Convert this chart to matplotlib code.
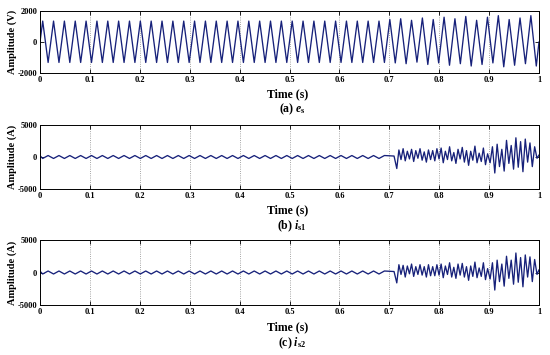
import numpy as np
import matplotlib
matplotlib.use("Agg")
import matplotlib.pyplot as plt

plt.rcParams["font.family"] = "Liberation Serif"
plt.rcParams["font.weight"] = "bold"
plt.rcParams["mathtext.fontset"] = "custom"
plt.rcParams["mathtext.it"] = "Liberation Serif:italic:bold"
plt.rcParams["mathtext.rm"] = "Liberation Serif:bold"

# waveform extrema (fundamental ~46 Hz)
T_FIRST = 0.0054          # time of first positive peak (s)
T_HALF = 0.01087          # time between successive extrema (s)
N_STEADY = 64             # extrema before the disturbance at 0.7 s

es_steady = [1350, -1320]                       # voltage peak / trough before 0.7 s
es_tail = [1450, -1350, 1500, -1400, 1400, -1300, 1550, -1450, 1450, -1350,
           1600, -1500, 1500, -1400, 1650, -1550, 1400, -1450, 1600, -1350,
           1700, -1600, 1450, -1500, 1550, -1400, 1700, -1550]

is_steady = [-230, 230]                         # current ripple before 0.7 s
is1_a = [150, -1800, 1100, -400, 1300, -600, 900, -300, 1200, -700, 1000, -200, 1300,
         -500, 800, -800, 1100, -400, 1000, -600, 1300, -300, 1400, -900, 900,
         -400, 1600, -600, 700, -1000, 1200, -300, 1500, -800, 1000, -1300, 900,
         -500, 1700, -900, 600, -700, 1400, -1200, 500]
is1_b = [-900, 1600, -2500, 2000, -1500, 1200, -2200, 2600, -1000, 1800, -1900,
         3000, -1600, 2400, -2300, 2800, -800, 2200, -1500, 1600, -200]
is2_a = [150, -1600, 1200, -300, 1100, -700, 1000, -200, 1300, -600, 900, -300, 1200,
         -400, 900, -700, 1200, -500, 900, -500, 1200, -400, 1300, -800, 1000,
         -300, 1500, -700, 800, -900, 1300, -400, 1400, -700, 900, -1200, 1000,
         -600, 1600, -800, 700, -600, 1500, -1100, 600]
is2_b = [-1000, 1500, -2700, 1900, -1400, 1300, -2100, 2500, -900, 1900, -1800,
         3000, -1500, 2300, -2200, 2700, -700, 2400, -1400, 2000, -300]

xticks = [0, 0.1, 0.2, 0.3, 0.4, 0.5, 0.6, 0.7, 0.8, 0.9, 1]
xticklabels = ["0", "0.1", "0.2", "0.3", "0.4", "0.5", "0.6", "0.7", "0.8", "0.9", "1"]
ylabels = ["Amplitude (V)", "Amplitude (A)", "Amplitude (A)"]
ylims = [2000, 5000, 5000]
captions = [r"(a) $e_\mathrm{s}$", r"(b) $i_\mathrm{s1}$", r"(c) $i_\mathrm{s2}$"]

LINE = "#17217a"
W, H = 550, 355


def voltage():
    vals = es_steady * (N_STEADY // 2) + es_tail
    t = T_FIRST + np.arange(len(vals)) * T_HALF
    return np.r_[0, t, 1.0], np.r_[0, vals, 0]


def current(seg_a, seg_b, end_val):
    vals = is_steady * (N_STEADY // 2)
    t = T_FIRST + np.arange(len(vals)) * T_HALF
    ta = np.r_[0.7095, np.linspace(0.715, 0.897, len(seg_a) - 1)]
    tb = np.linspace(0.902, 0.996, len(seg_b))
    return (np.r_[0, t, ta, tb, 1.0],
            np.r_[200, vals, seg_a, seg_b, end_val])


series = [voltage(), current(is1_a, is1_b, 300), current(is2_a, is2_b, 400)]
# axes boxes in pixels: (top, bottom)
boxes = [(11, 73), (125, 189), (240, 305)]
time_y = [94, 210, 327]
cap_y = [109, 226, 343]

fig = plt.figure(figsize=(5.5, 3.55), dpi=100)
for i, ((t, y), (top, bot)) in enumerate(zip(series, boxes)):
    ax = fig.add_axes([40 / W, 1 - bot / H, 499 / W, (bot - top) / H])
    ax.plot(t, y, color=LINE, lw=0.95, solid_joinstyle="round")
    lim = ylims[i]
    ax.set_xlim(0, 1); ax.set_ylim(-lim, lim)
    ax.set_xticks(xticks); ax.set_xticklabels(xticklabels)
    ax.set_yticks([-lim, 0, lim]); ax.set_yticklabels([f"-{lim}", "0", f"{lim}"])
    ax.tick_params(direction="in", top=True, right=True, length=3, width=0.6,
                   labelsize=6, pad=2)
    ax.xaxis.grid(True, linestyle=":", color="#888888", lw=0.6)
    for s in ax.spines.values():
        s.set_linewidth(0.7)
    fig.text(12 / W, 1 - (top + bot) / 2 / H, ylabels[i], rotation=90,
             ha="center", va="center", fontsize=7.5, fontweight="bold")
    fig.text(288 / W, 1 - time_y[i] / H, "Time (s)", ha="center", va="center",
             fontsize=8.5, fontweight="bold")
    fig.text(292 / W, 1 - cap_y[i] / H, captions[i], ha="center", va="center",
             fontsize=8.5, fontweight="bold")

fig.savefig("out.png", dpi=100)
